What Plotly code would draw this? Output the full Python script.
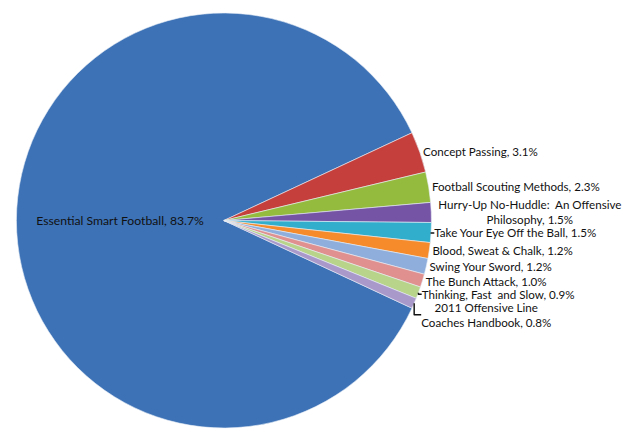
"""Pie chart: share of book titles"""
import plotly.graph_objects as go

# Данные
titles = [
    "Essential Smart Football",
    "Concept Passing",
    "Football Scouting Methods",
    "Hurry-Up No-Huddle:  An Offensive<br>Philosophy",
    "Take Your Eye Off the Ball",
    "Blood, Sweat & Chalk",
    "Swing Your Sword",
    "The Bunch Attack",
    "Thinking, Fast  and Slow",
    "2011 Offensive Line<br>Coaches Handbook",
]
shares = [83.7, 3.1, 2.3, 1.5, 1.5, 1.2, 1.2, 1.0, 0.9, 0.8]

# Excel-like palette
colors = [
    "#3D72B6", "#C5403C", "#94BB3D", "#7553A5", "#31AECB",
    "#F58B2A", "#8FAEDB", "#E0918F", "#B8D38A", "#A999CB",
]

# page body keeps its default 8px margin: 8 + 621 + 8 = 637, 8 + 425 + 8 = 441
W, H = 621, 425

fig = go.Figure(
    go.Pie(
        labels=titles,
        values=shares,
        sort=False,
        direction="clockwise",
        rotation=115,
        marker=dict(colors=colors, line=dict(color="#E8EEF6", width=0.6)),
        texttemplate="%{label}, %{value:.1f}%",
        textposition=["inside"] + ["outside"] * 9,
        insidetextorientation="horizontal",
        textfont=dict(family="Lato, Open Sans, sans-serif", size=11.6, color="#111111"),
        insidetextfont=dict(color="#111111", size=12.2),
        hoverinfo="label+value",
        showlegend=False,
        domain=dict(x=[4.5 / W, 429.5 / W], y=[0, 1]),
    )
)

fig.update_layout(
    width=W,
    height=H,
    margin=dict(t=0, b=0, l=0, r=0),
    paper_bgcolor="white",
    plot_bgcolor="white",
)

fig.write_html("out.html", config={"displayModeBar": False})
